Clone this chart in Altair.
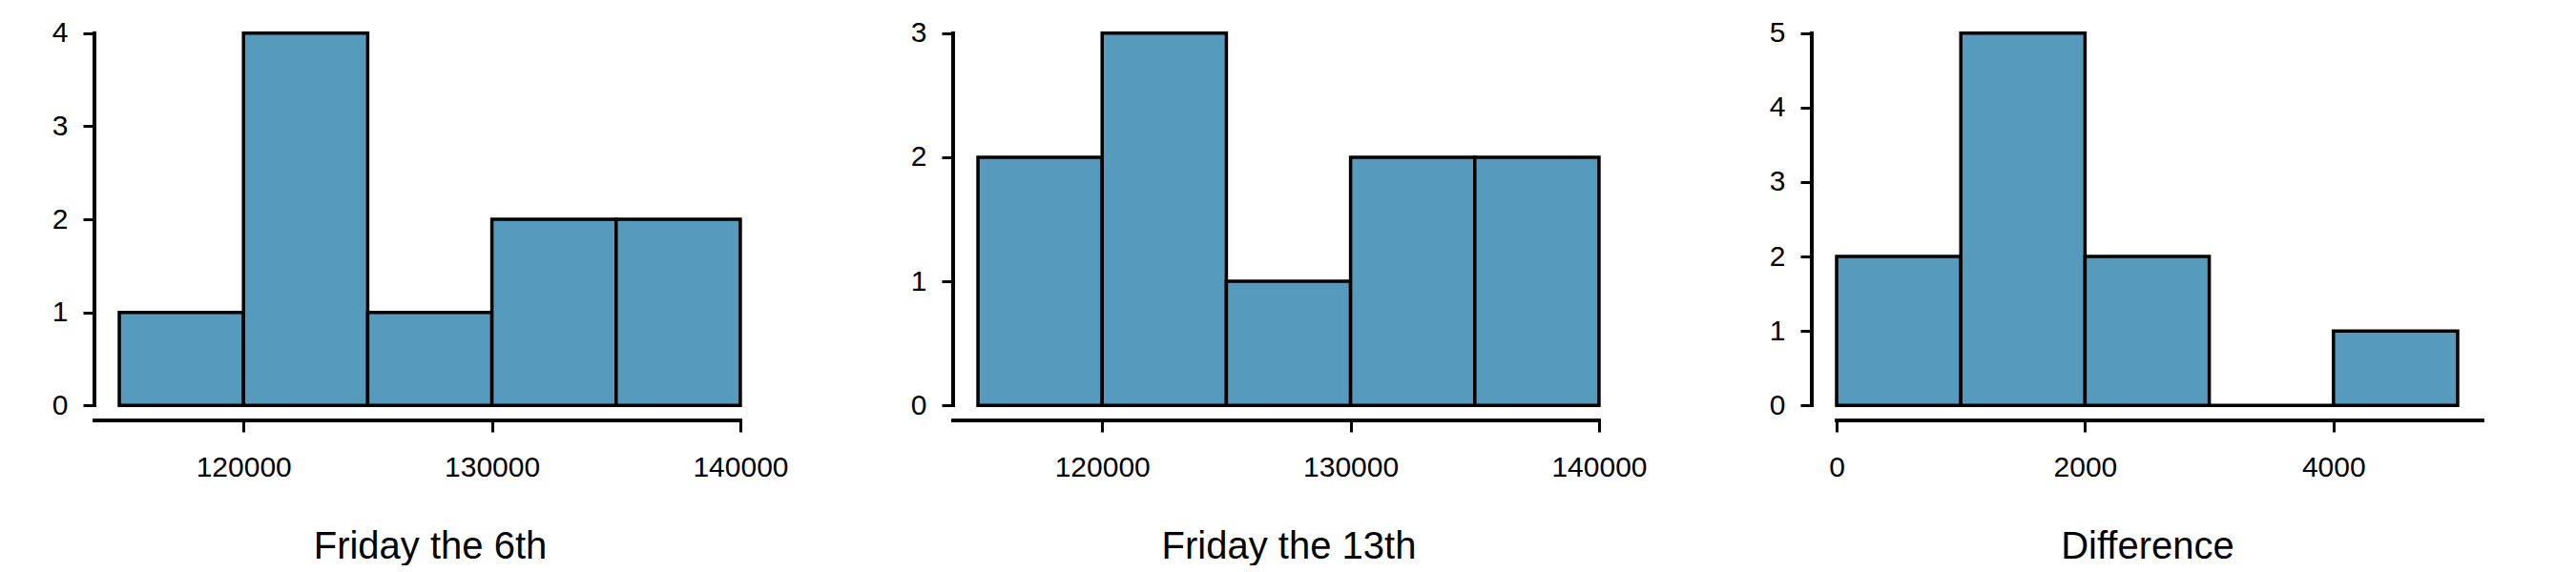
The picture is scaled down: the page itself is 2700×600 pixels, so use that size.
import altair as alt
import pandas as pd

# ---- data ----
bin_starts_f = [115000, 120000, 125000, 130000, 135000]
bin_ends_f = [120000, 125000, 130000, 135000, 140000]
counts_6th = [1, 4, 1, 2, 2]
counts_13th = [2, 3, 1, 2, 2]

bin_starts_d = [0, 1000, 2000, 3000, 4000]
bin_ends_d = [1000, 2000, 3000, 4000, 5000]
counts_diff = [2, 5, 2, 0, 1]

titles = ["Friday the 6th", "Friday the 13th", "Difference"]
xticks_f = [120000, 130000, 140000]
xticks_d = [0, 2000, 4000]

# x-scale extents (R's 4% extension) and x-axis line extents
xdomain_f = [114000, 141000]
xdomain_d = [-200, 5200]
xline_f = [114000, 140000]
xline_d = [0, 5200]

FILL = "#569BBD"
FONT = "Liberation Sans"
W, H = 703, 422


def panel(starts, ends, counts, title, xticks, xdomain, xline):
    ymax = max(counts)
    ydomain = [-0.04 * ymax, 1.04 * ymax]
    df = pd.DataFrame({"start": starts, "end": ends, "count": counts})
    xscale = alt.Scale(domain=xdomain, nice=False, zero=False)
    yscale = alt.Scale(domain=ydomain, nice=False, zero=False)
    bars = alt.Chart(df).mark_rect(
        fill=FILL, stroke="black", strokeWidth=3.5, strokeJoin="miter"
    ).encode(
        x=alt.X("start:Q", scale=xscale, axis=alt.Axis(
            values=xticks, title=title, domain=False, grid=False,
            tickSize=12, tickWidth=3, tickColor="black",
            labelFontSize=30, labelFont=FONT, labelColor="black",
            labelPadding=22, labelFlush=False, labelOverlap=False,
            format="d",
            titleFontSize=40, titleFont=FONT, titleFontWeight="normal",
            titleColor="black", titlePadding=48)),
        x2="end:Q",
        y=alt.Y("count:Q", scale=yscale, axis=alt.Axis(
            values=list(range(0, ymax + 1)), title=None, domain=False,
            grid=False, tickSize=12, tickWidth=3, tickColor="black",
            labelFontSize=30, labelFont=FONT, labelColor="black",
            labelPadding=16, labelFlush=False, labelOverlap=False,
            format="d")),
        y2=alt.datum(0),
    )
    yline = alt.Chart(df).mark_rule(color="black", strokeWidth=3.2, strokeCap="square").encode(
        x=alt.datum(xdomain[0]),
        y=alt.datum(0),
        y2=alt.datum(ymax),
    )
    xline = alt.Chart(df).mark_rule(color="black", strokeWidth=3.2, strokeCap="square").encode(
        y=alt.datum(ydomain[0]),
        x=alt.datum(xline[0]),
        x2=alt.datum(xline[1]),
    )
    return alt.layer(bars, yline, xline).properties(width=W, height=H)


p1 = panel(bin_starts_f, bin_ends_f, counts_6th, titles[0], xticks_f, xdomain_f, xline_f)
p2 = panel(bin_starts_f, bin_ends_f, counts_13th, titles[1], xticks_f, xdomain_f, xline_f)
p3 = panel(bin_starts_d, bin_ends_d, counts_diff, titles[2], xticks_d, xdomain_d, xline_d)

chart = alt.hconcat(p1, p2, p3, spacing=197, bounds="flush").properties(
    padding={"left": 54, "top": 19, "right": 0, "bottom": 0},
    background="white",
).configure_view(stroke=None)

chart.save("out.html", embed_options={"renderer": "svg", "actions": False})
